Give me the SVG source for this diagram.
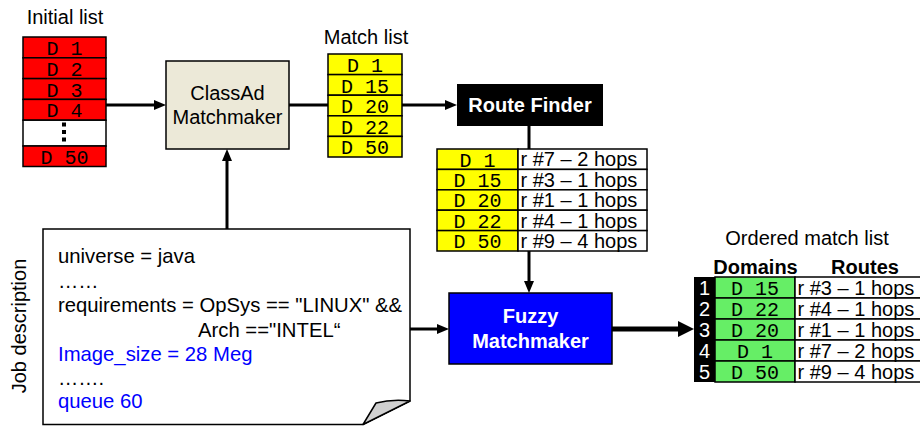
<svg xmlns="http://www.w3.org/2000/svg" width="920" height="426" viewBox="0 0 920 426">
<style>
.lbl{font-family:"Liberation Sans",Arial,sans-serif;font-size:20px;fill:#000}
.job{font-size:20.3px}
.mono{font-family:"Liberation Mono","Courier New",monospace;font-size:20px;fill:#000;text-anchor:middle}
.rt{font-family:"Liberation Sans",Arial,sans-serif;font-size:20px;fill:#000}
.cell{stroke:#000;stroke-width:1.5}
.wb{font-family:"Liberation Sans",Arial,sans-serif;font-size:20px;font-weight:bold;fill:#fff;text-anchor:middle}
.num{font-family:"Liberation Sans",Arial,sans-serif;font-size:20px;fill:#fff;text-anchor:middle}
.blue{fill:#0000ff}
.ln{stroke:#000;stroke-width:3;fill:none}
</style>
<rect width="920" height="426" fill="#fff"/>

<g id="initial-list">
<text class="lbl" x="65" y="24" text-anchor="middle">Initial list</text>
<g fill="#ff0000" class="cell">
<rect x="23" y="37" width="83" height="20.8"/>
<rect x="23" y="57.8" width="83" height="20.8"/>
<rect x="23" y="78.6" width="83" height="20.8"/>
<rect x="23" y="99.4" width="83" height="20.8"/>
<rect x="23" y="120.2" width="83" height="25.8" fill="#fff"/>
<rect x="23" y="146" width="83" height="20.5"/>
</g>
<text class="mono" x="64.5" y="55">D 1</text>
<text class="mono" x="64.5" y="75.8">D 2</text>
<text class="mono" x="64.5" y="96.6">D 3</text>
<text class="mono" x="64.5" y="117.4">D 4</text>
<rect x="62" y="122.5" width="4" height="4" fill="#000"/>
<rect x="62" y="130" width="4" height="4" fill="#000"/>
<rect x="62" y="137.5" width="4" height="4" fill="#000"/>
<text class="mono" x="64.5" y="164">D 50</text>
</g>

<g id="classad">
<rect x="166" y="61" width="123" height="88" fill="#ece9d8" stroke="#000" stroke-width="1.5"/>
<text class="lbl" x="227.5" y="100" text-anchor="middle" fill="#222">ClassAd</text>
<text class="lbl" x="227.5" y="124" text-anchor="middle" fill="#222">Matchmaker</text>
</g>

<g id="match-list">
<text class="lbl" x="366" y="44" text-anchor="middle">Match list</text>
<g fill="#ffff00" class="cell">
<rect x="328" y="54" width="74" height="20.6"/>
<rect x="328" y="74.6" width="74" height="20.6"/>
<rect x="328" y="95.2" width="74" height="20.6"/>
<rect x="328" y="115.8" width="74" height="20.6"/>
<rect x="328" y="136.4" width="74" height="20.6"/>
</g>
<text class="mono" x="365" y="72">D 1</text>
<text class="mono" x="365" y="92.6">D 15</text>
<text class="mono" x="365" y="113.2">D 20</text>
<text class="mono" x="365" y="133.8">D 22</text>
<text class="mono" x="365" y="154.4">D 50</text>
</g>

<g id="route-finder">
<rect x="457" y="84" width="146" height="42" fill="#000"/>
<text class="wb" x="530" y="112">Route Finder</text>
</g>

<g id="route-table">
<g class="cell">
<rect x="437" y="149" width="81" height="20.4" fill="#ffff00"/>
<rect x="437" y="169.4" width="81" height="20.4" fill="#ffff00"/>
<rect x="437" y="189.8" width="81" height="20.4" fill="#ffff00"/>
<rect x="437" y="210.2" width="81" height="20.4" fill="#ffff00"/>
<rect x="437" y="230.6" width="81" height="20.4" fill="#ffff00"/>
<rect x="518" y="149" width="129" height="20.4" fill="#fff"/>
<rect x="518" y="169.4" width="129" height="20.4" fill="#fff"/>
<rect x="518" y="189.8" width="129" height="20.4" fill="#fff"/>
<rect x="518" y="210.2" width="129" height="20.4" fill="#fff"/>
<rect x="518" y="230.6" width="129" height="20.4" fill="#fff"/>
</g>
<text class="mono" x="477.5" y="166.5">D 1</text>
<text class="mono" x="477.5" y="186.9">D 15</text>
<text class="mono" x="477.5" y="207.3">D 20</text>
<text class="mono" x="477.5" y="227.7">D 22</text>
<text class="mono" x="477.5" y="248.1">D 50</text>
<text class="rt" x="520.5" y="166.3">r #7 – 2 hops</text>
<text class="rt" x="520.5" y="186.7">r #3 – 1 hops</text>
<text class="rt" x="520.5" y="207.1">r #1 – 1 hops</text>
<text class="rt" x="520.5" y="227.5">r #4 – 1 hops</text>
<text class="rt" x="520.5" y="247.9">r #9 – 4 hops</text>
</g>

<g id="fuzzy">
<rect x="449" y="293" width="163" height="71" fill="#0000ff" stroke="#000" stroke-width="1.5"/>
<text class="wb" x="530.5" y="323">Fuzzy</text>
<text class="wb" x="530.5" y="348">Matchmaker</text>
</g>

<g id="job-description">
<path d="M43,229 H410 V401 L363,424.5 H43 Z" fill="#fff" stroke="#000" stroke-width="1.5"/>
<path d="M363,424.5 L376,403 Q392,399 410,401 Z" fill="#d0d0d0" stroke="#000" stroke-width="1.5" stroke-linejoin="round"/>
<text class="lbl" transform="translate(26,326) rotate(-90)" text-anchor="middle">Job description</text>
<text class="lbl job" x="58" y="263">universe = java</text>
<text class="lbl job" x="58" y="288">……</text>
<text class="lbl job" x="58" y="312">requirements = OpSys == "LINUX" &amp;&amp;</text>
<text class="lbl job" x="198" y="337">Arch =="INTEL“</text>
<text class="lbl job blue" x="58" y="361">Image_size = 28 Meg</text>
<text class="lbl job" x="58" y="385">…….</text>
<text class="lbl job blue" x="58" y="408">queue 60</text>
</g>

<g id="ordered-list">
<text class="lbl" x="807" y="245" text-anchor="middle">Ordered match list</text>
<text class="lbl" x="755.5" y="274" text-anchor="middle" font-weight="bold" font-size="18">Domains</text>
<text class="lbl" x="865" y="274" text-anchor="middle" font-weight="bold" font-size="18">Routes</text>
<rect x="694" y="277" width="21" height="105" fill="#000"/>
<g class="cell">
<rect x="715" y="277" width="80" height="21" fill="#66ee66"/>
<rect x="715" y="298" width="80" height="21" fill="#66ee66"/>
<rect x="715" y="319" width="80" height="21" fill="#66ee66"/>
<rect x="715" y="340" width="80" height="21" fill="#66ee66"/>
<rect x="715" y="361" width="80" height="21" fill="#66ee66"/>
<rect x="795" y="277" width="130" height="21" fill="#fff"/>
<rect x="795" y="298" width="130" height="21" fill="#fff"/>
<rect x="795" y="319" width="130" height="21" fill="#fff"/>
<rect x="795" y="340" width="130" height="21" fill="#fff"/>
<rect x="795" y="361" width="130" height="21" fill="#fff"/>
</g>
<text class="num" x="704.5" y="295">1</text>
<text class="num" x="704.5" y="316">2</text>
<text class="num" x="704.5" y="337">3</text>
<text class="num" x="704.5" y="358">4</text>
<text class="num" x="704.5" y="379">5</text>
<text class="mono" x="755" y="295">D 15</text>
<text class="mono" x="755" y="316">D 22</text>
<text class="mono" x="755" y="337">D 20</text>
<text class="mono" x="755" y="358">D 1</text>
<text class="mono" x="755" y="379">D 50</text>
<text class="rt" x="797.5" y="295">r #3 – 1 hops</text>
<text class="rt" x="797.5" y="316">r #4 – 1 hops</text>
<text class="rt" x="797.5" y="337">r #1 – 1 hops</text>
<text class="rt" x="797.5" y="358">r #7 – 2 hops</text>
<text class="rt" x="797.5" y="379">r #9 – 4 hops</text>
</g>

<g id="connectors">
<line class="ln" x1="106" y1="105" x2="155" y2="105"/>
<polygon points="166,105 154,100 154,110" fill="#000"/>
<line class="ln" x1="289" y1="105" x2="328" y2="105"/>
<line class="ln" x1="402" y1="105" x2="446" y2="105"/>
<polygon points="457,105 445,100 445,110" fill="#000"/>
<line class="ln" x1="529" y1="126" x2="529" y2="149"/>
<line class="ln" x1="529" y1="251" x2="529" y2="282"/>
<polygon points="529,293 524,281 534,281" fill="#000"/>
<line class="ln" x1="227" y1="229" x2="227" y2="160"/>
<polygon points="227,149 222,161 232,161" fill="#000"/>
<line class="ln" x1="410" y1="329" x2="438" y2="329"/>
<polygon points="449,329 437,324 437,334" fill="#000"/>
<line x1="612" y1="329" x2="680" y2="329" stroke="#000" stroke-width="5"/>
<polygon points="694,329 678,321 678,337" fill="#000"/>
</g>
</svg>
